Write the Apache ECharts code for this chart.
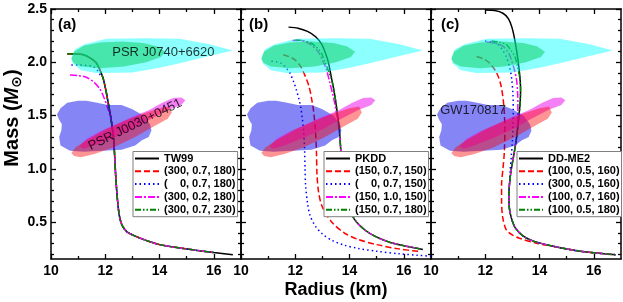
<!DOCTYPE html>
<html><head><meta charset="utf-8">
<script src="https://cdn.jsdelivr.net/npm/echarts@6/dist/echarts.min.js"></script>
<style>html,body{margin:0;padding:0;background:#fff}#c{width:623px;height:302px}</style>
</head><body><div id="c"></div>
<script>
// ---- tick labels ----
const xMajorTicks = [10, 12, 14, 16];
const xMinorTicks = [11, 13, 15];
const yMajorTicks = [0.5, 1.0, 1.5, 2.0, 2.5];
const yMinorTicks = [0.2,0.3,0.4,0.6,0.7,0.8,0.9,1.1,1.2,1.3,1.4,1.6,1.7,1.8,1.9,2.1,2.2,2.3,2.4];

// ---- panel (a) TW99 ----
const namesA = ['TW99', '(300, 0.7, 180)', '(    0, 0.7, 180)', '(300, 0.2, 180)', '(300, 0.7, 230)'];
const tw99 = [[10.6,2.08],[10.9,2.078],[11.2,2.07],[11.45,2.04],[11.65,2.0],[11.8,1.93],[11.92,1.85],[12.02,1.74],[12.1,1.63],[12.18,1.52],[12.25,1.4],[12.31,1.27],[12.35,1.1],[12.38,0.95],[12.42,0.8],[12.46,0.68],[12.52,0.56],[12.62,0.47],[12.8,0.41],[13.1,0.37],[13.5,0.33],[14.0,0.29],[14.7,0.26],[15.4,0.235],[16.0,0.215],[16.7,0.195]];
const a300_07_180 = [[10.6,2.08],[10.9,2.078],[11.2,2.07],[11.45,2.04],[11.65,2.0],[11.8,1.93],[11.92,1.85],[12.02,1.74],[12.1,1.63],[12.18,1.52],[12.25,1.4],[12.31,1.27],[12.35,1.1],[12.38,0.95],[12.42,0.8],[12.46,0.68],[12.52,0.56],[12.62,0.47],[12.8,0.41],[13.1,0.37],[13.5,0.33],[14.0,0.29],[14.7,0.26],[15.4,0.235],[16.0,0.215]];
const a0_07_180 = [[10.75,1.975],[11.0,1.975],[11.3,1.97],[11.55,1.96],[11.72,1.92],[11.82,1.88],[11.92,1.85],[12.02,1.74],[12.1,1.63],[12.18,1.52],[12.25,1.4],[12.31,1.27],[12.35,1.1],[12.38,0.95],[12.42,0.8],[12.46,0.68],[12.52,0.56],[12.62,0.47],[12.8,0.41],[13.1,0.37],[13.5,0.33],[14.0,0.29],[14.7,0.26],[15.4,0.235],[16.0,0.215]];
const a300_02_180 = [[10.7,1.88],[11.0,1.875],[11.3,1.86],[11.6,1.81],[11.8,1.75],[11.95,1.67],[12.08,1.58],[12.18,1.49],[12.25,1.41],[12.3,1.33],[12.33,1.2],[12.35,1.1],[12.38,0.95],[12.42,0.8],[12.46,0.68],[12.52,0.56],[12.62,0.47],[12.8,0.41],[13.1,0.37],[13.5,0.33],[14.0,0.29],[14.7,0.26],[15.4,0.235],[16.0,0.215]];
const a300_07_230 = [[10.6,2.08],[10.9,2.078],[11.2,2.07],[11.45,2.04],[11.65,2.0],[11.8,1.93],[11.92,1.85],[12.02,1.74],[12.1,1.63],[12.18,1.52],[12.25,1.4],[12.31,1.27],[12.35,1.1],[12.38,0.95],[12.42,0.8],[12.46,0.68],[12.52,0.56],[12.62,0.47],[12.8,0.41],[13.1,0.37],[13.5,0.33],[14.0,0.29],[14.7,0.26],[15.4,0.235],[16.0,0.215]];

// ---- panel (b) PKDD ----
const namesB = ['PKDD', '(150, 0.7, 150)', '(    0, 0.7, 150)', '(150, 1.0, 150)', '(150, 0.7, 180)'];
const pkdd = [[11.75,2.33],[12.1,2.32],[12.45,2.29],[12.75,2.24],[12.97,2.17],[13.12,2.08],[13.22,2.0],[13.32,1.87],[13.4,1.77],[13.48,1.65],[13.55,1.52],[13.62,1.38],[13.67,1.2],[13.72,1.0],[13.8,0.8],[13.95,0.65],[14.2,0.52],[14.6,0.42],[15.0,0.36],[15.5,0.31],[16.0,0.28],[16.7,0.245]];
const b150_07_150 = [[11.55,2.07],[11.8,2.05],[12.0,2.02],[12.2,1.96],[12.35,1.88],[12.5,1.78],[12.6,1.66],[12.68,1.53],[12.74,1.37],[12.78,1.15],[12.8,0.95],[12.86,0.78],[13.0,0.64],[13.35,0.5],[13.8,0.4],[14.3,0.34],[15.0,0.29],[15.8,0.25],[16.6,0.225]];
const b0_07_150 = [[11.12,2.01],[11.3,2.005],[11.49,1.99],[11.65,1.95],[11.8,1.9],[11.95,1.81],[12.04,1.74],[12.14,1.65],[12.2,1.58],[12.26,1.47],[12.3,1.38],[12.34,1.2],[12.36,1.0],[12.38,0.85],[12.45,0.68],[12.55,0.56],[12.75,0.46],[13.0,0.39],[13.35,0.33],[13.8,0.285],[14.3,0.255],[15.0,0.228],[15.8,0.205],[16.5,0.19],[17.0,0.182]];
const b150_10_150 = [[11.9,2.205],[12.1,2.205],[12.35,2.195],[12.6,2.16],[12.84,2.1],[13.0,2.02],[13.15,1.93],[13.28,1.8],[13.4,1.68],[13.5,1.55],[13.58,1.43],[13.63,1.33],[13.67,1.2],[13.72,1.0],[13.8,0.8],[13.95,0.65],[14.2,0.52],[14.6,0.42],[15.0,0.36],[15.5,0.31],[16.0,0.28],[16.6,0.25]];
const b150_07_180 = [[12.0,2.21],[12.25,2.205],[12.5,2.19],[12.75,2.15],[12.95,2.09],[13.1,2.0],[13.22,1.92],[13.32,1.85],[13.4,1.77],[13.48,1.65],[13.55,1.52],[13.62,1.38],[13.67,1.2],[13.72,1.0],[13.8,0.8],[13.95,0.65],[14.2,0.52],[14.6,0.42],[15.0,0.36],[15.5,0.31],[16.0,0.28],[16.6,0.25]];

// ---- panel (c) DD-ME2 ----
const namesC = ['DD-ME2', '(100, 0.5, 160)', '(300, 0.5, 160)', '(100, 0.7, 160)', '(100, 0.5, 180)'];
const ddme2 = [[12.0,2.49],[12.35,2.485],[12.65,2.46],[12.85,2.41],[12.98,2.33],[13.08,2.22],[13.16,2.1],[13.23,1.97],[13.28,1.85],[13.3,1.75],[13.29,1.65],[13.25,1.52],[13.2,1.4],[13.14,1.27],[13.05,1.13],[12.96,1.0],[12.9,0.88],[12.87,0.77],[12.88,0.65],[12.95,0.55],[13.1,0.45],[13.4,0.37],[13.8,0.32],[14.5,0.275],[15.5,0.228],[16.8,0.195]];
const c100_05_160 = [[11.68,2.055],[11.95,2.03],[12.17,1.99],[12.42,1.9],[12.58,1.78],[12.68,1.6],[12.72,1.37],[12.7,1.15],[12.65,1.0],[12.6,0.85],[12.6,0.7],[12.64,0.55],[12.77,0.43],[13.0,0.38],[13.26,0.35],[13.88,0.303],[14.6,0.27],[15.5,0.228],[16.6,0.198]];
const c300_05_160 = [[11.99,2.2],[12.25,2.19],[12.48,2.165],[12.65,2.11],[12.78,2.05],[12.9,1.95],[12.97,1.85],[13.02,1.7],[13.03,1.55],[13.02,1.4],[13.0,1.27],[12.96,1.12],[12.92,1.0],[12.9,0.88],[12.87,0.77],[12.88,0.65],[12.95,0.55],[13.1,0.45],[13.4,0.37],[13.8,0.32],[14.5,0.275],[15.5,0.228],[16.8,0.195]];
const c100_07_160 = [[12.05,2.19],[12.35,2.18],[12.66,2.15],[12.85,2.09],[12.97,2.02],[13.07,1.93],[13.15,1.84],[13.19,1.72],[13.2,1.6],[13.2,1.5],[13.17,1.35],[13.14,1.27],[13.05,1.13],[12.96,1.0],[12.9,0.88],[12.87,0.77],[12.88,0.65],[12.95,0.55],[13.1,0.45],[13.4,0.37],[13.8,0.32],[14.5,0.275],[15.5,0.228],[16.8,0.195]];
const c100_05_180 = [[12.23,2.2],[12.5,2.19],[12.78,2.165],[12.95,2.11],[13.09,2.055],[13.18,1.97],[13.24,1.9],[13.28,1.83],[13.3,1.75],[13.29,1.65],[13.25,1.52],[13.2,1.4],[13.14,1.27],[13.05,1.13],[12.96,1.0],[12.9,0.88],[12.87,0.77],[12.88,0.65],[12.95,0.55],[13.1,0.45],[13.4,0.37],[13.8,0.32],[14.5,0.275],[15.5,0.228],[16.8,0.195]];

// ---- observational regions (radius, mass) ----
const j0740Outer = [[10.75,2.04],[10.87,2.12],[11.24,2.17],[12.04,2.22],[13.5,2.225],[14.74,2.22],[15.84,2.17],[16.7,2.11],[15.84,2.06],[14.74,1.99],[14.0,1.95],[13.0,1.905],[11.67,1.9],[11.1,1.925],[10.8,1.99]];
const j0740Inner = [[10.75,2.03],[10.85,2.1],[11.2,2.155],[11.8,2.185],[12.6,2.195],[13.4,2.18],[13.9,2.15],[14.2,2.1],[14.05,2.05],[13.5,2.0],[12.7,1.96],[11.8,1.945],[11.1,1.96],[10.85,1.99]];
const gw170817 = [[10.22,1.51],[10.35,1.57],[10.6,1.62],[11.0,1.64],[11.3,1.64],[11.7,1.62],[12.1,1.6],[12.6,1.6],[13.0,1.56],[13.4,1.5],[13.65,1.42],[13.7,1.36],[13.6,1.3],[13.35,1.27],[13.1,1.22],[12.6,1.18],[11.9,1.17],[11.2,1.16],[10.7,1.17],[10.35,1.22],[10.3,1.3],[10.38,1.36],[10.4,1.42],[10.3,1.46]];
const j0030Outer = [[11.05,1.21],[11.3,1.28],[11.8,1.35],[12.4,1.42],[13.0,1.49],[13.6,1.55],[14.1,1.62],[14.5,1.665],[14.8,1.67],[14.95,1.645],[14.8,1.6],[14.3,1.55],[13.7,1.47],[13.0,1.37],[12.3,1.29],[11.6,1.22],[11.2,1.19]];
const j0030Inner = [[10.75,1.15],[10.9,1.2],[11.3,1.27],[12.0,1.37],[12.7,1.45],[13.4,1.52],[14.0,1.57],[14.35,1.585],[14.45,1.53],[14.3,1.47],[13.8,1.4],[13.1,1.3],[12.3,1.2],[11.6,1.14],[11.1,1.11],[10.85,1.12]];

// ---- annotations ----
const annA = [{value:[14.14,2.09], name:'PSR J0740+6620', rot:0},{value:[13.1,1.415], name:'PSR J0030+0451', rot:26}];
const annC = [{value:[11.55,1.546], name:'GW170817', rot:0}];

const FONT = '"Liberation Sans", Arial, Helvetica, sans-serif';
const lineStyles = [
  {color:'#000000', type:'solid'},
  {color:'#ff0000', type:[6,3]},
  {color:'#0000ff', type:[1.5,3]},
  {color:'#ff00ff', type:[7,2,2,2]},
  {color:'#008000', type:[6,2,1.5,2,1.5,2]}
];
const panels = [
  {names:namesA, curves:[tw99,a300_07_180,a0_07_180,a300_02_180,a300_07_230], legendLeft:133},
  {names:namesB, curves:[pkdd,b150_07_150,b0_07_150,b150_10_150,b150_07_180], legendLeft:324},
  {names:namesC, curves:[ddme2,c100_05_160,c300_05_160,c100_07_160,c100_05_180], legendLeft:517}
];
const gridLefts = [51, 241, 431];

const grids = [], xAxes = [], yAxes = [], series = [], legends = [];
function axisBase(gi, extra) {
  return Object.assign({gridIndex:gi, type:'value', splitLine:{show:false}, axisLine:{show:false, onZero:false}}, extra);
}
gridLefts.forEach((left, gi) => {
  grids.push({left:left, top:9, width:190, height:250, containLabel:false});
  ['bottom','top'].forEach(pos => {
    xAxes.push(axisBase(gi, {position:pos, min:10, max:17,
      axisLine:{show:true, onZero:false, lineStyle:{color:'#000', width:1.5}},
      axisTick:{show:true, inside:true, length:5, customValues:xMajorTicks, lineStyle:{color:'#000', width:1.3}},
      axisLabel:{show:pos==='bottom', customValues:xMajorTicks, margin:5, color:'#000', fontSize:14, fontWeight:'bold', fontFamily:FONT}}));
    xAxes.push(axisBase(gi, {position:pos, min:10, max:17,
      axisTick:{show:true, inside:true, length:3, customValues:xMinorTicks, lineStyle:{color:'#000', width:1.3}},
      axisLabel:{show:false}}));
  });
  ['left','right'].forEach(pos => {
    yAxes.push(axisBase(gi, {position:pos, min:0.155, max:2.5,
      axisLine:{show:true, onZero:false, lineStyle:{color:'#000', width:1.5}},
      axisTick:{show:true, inside:true, length:5, customValues:yMajorTicks, lineStyle:{color:'#000', width:1.3}},
      axisLabel:{show:(gi===0 && pos==='left'), customValues:yMajorTicks, margin:4, color:'#000', fontSize:14, fontWeight:'bold', fontFamily:FONT, formatter:v=>Number(v).toFixed(1)}}));
    yAxes.push(axisBase(gi, {position:pos, min:0.155, max:2.5,
      axisTick:{show:true, inside:true, length:3, customValues:yMinorTicks, lineStyle:{color:'#000', width:1.3}},
      axisLabel:{show:false}}));
  });

  const p = panels[gi];
  p.curves.forEach((data, k) => {
    series.push({type:'line', name:p.names[k], xAxisIndex:gi*4, yAxisIndex:gi*4, data:data,
      symbol:'none', showSymbol:false, smooth:0.3, z:2, clip:true,
      lineStyle:{color:lineStyles[k].color, type:lineStyles[k].type, width:1.5},
      itemStyle:{color:lineStyles[k].color}});
  });

  const regions = [
    [j0740Outer, 'rgba(0,255,255,0.45)'],
    [j0740Inner, 'rgba(0,205,90,0.5)'],
    [gw170817, 'rgba(0,0,235,0.48)'],
    [j0030Outer, 'rgba(235,0,235,0.5)'],
    [j0030Inner, 'rgba(255,0,0,0.42)']
  ];
  regions.forEach(([pts, col]) => {
    series.push({type:'custom', coordinateSystem:'cartesian2d', xAxisIndex:gi*4, yAxisIndex:gi*4,
      clip:true, silent:true, z:3, data:[pts[0]],
      renderItem:(params, api) => ({type:'polygon', shape:{points:pts.map(q => api.coord(q))}, style:{fill:col}})
    });
  });

  legends.push({orient:'vertical', left:p.legendLeft, top:151.5, itemWidth:24, itemHeight:12, itemGap:1.8,
    padding:[1.5,2,1.5,1], backgroundColor:'#ffffff', borderColor:'#7f7f7f', borderWidth:1,
    selectedMode:false, z:10,
    itemStyle:{opacity:0, borderWidth:0},
    data:p.names.map(n => ({name:n, itemStyle:{opacity:0}})),
    textStyle:{color:'#000', fontSize:11, fontWeight:'bold', fontFamily:FONT}});
});

function annSeries(gi, arr) {
  return {type:'scatter', xAxisIndex:gi*4, yAxisIndex:gi*4, symbolSize:1, silent:true, z:5,
    itemStyle:{color:'transparent'},
    data:arr.map(a => ({value:a.value, name:a.name, label:{rotate:a.rot}})),
    label:{show:true, position:'inside', formatter:'{b}', color:'#000', fontSize:13, fontFamily:FONT}};
}
series.push(annSeries(0, annA));
series.push(annSeries(2, annC));

const chart = echarts.init(document.getElementById('c'), null, {renderer:'canvas'});
chart.setOption({
  animation:false,
  grid:grids, xAxis:xAxes, yAxis:yAxes, series:series, legend:legends,
  graphic:[
    {type:'text', x:58, y:25, z:20, style:{text:'(a)', font:'bold 15px '+FONT, fill:'#000', textVerticalAlign:'middle', verticalAlign:'middle'}},
    {type:'text', x:249, y:25, z:20, style:{text:'(b)', font:'bold 15px '+FONT, fill:'#000', textVerticalAlign:'middle', verticalAlign:'middle'}},
    {type:'text', x:441, y:25, z:20, style:{text:'(c)', font:'bold 15px '+FONT, fill:'#000', textVerticalAlign:'middle', verticalAlign:'middle'}},
    {type:'text', x:336, y:290, z:20, style:{text:'Radius (km)', font:'bold 18px '+FONT, fill:'#000', textAlign:'center', align:'center', textVerticalAlign:'middle', verticalAlign:'middle'}},
    {type:'text', x:12, y:118, rotation:Math.PI/2, z:20, style:{text:'{b|Mass (}{i|M}{s|\u2299}{b|)}', fill:'#000',
      textAlign:'center', align:'center', textVerticalAlign:'middle', verticalAlign:'middle',
      rich:{
        b:{fontSize:20, fontWeight:'bold', fontFamily:FONT, lineHeight:24, verticalAlign:'middle'},
        i:{fontSize:20, fontWeight:'bold', fontStyle:'italic', fontFamily:FONT, lineHeight:24, verticalAlign:'middle'},
        s:{fontSize:14, fontWeight:'bold', fontFamily:'"DejaVu Sans", sans-serif', lineHeight:14, verticalAlign:'bottom'}
      }}}
  ]
});
</script>
</body></html>
